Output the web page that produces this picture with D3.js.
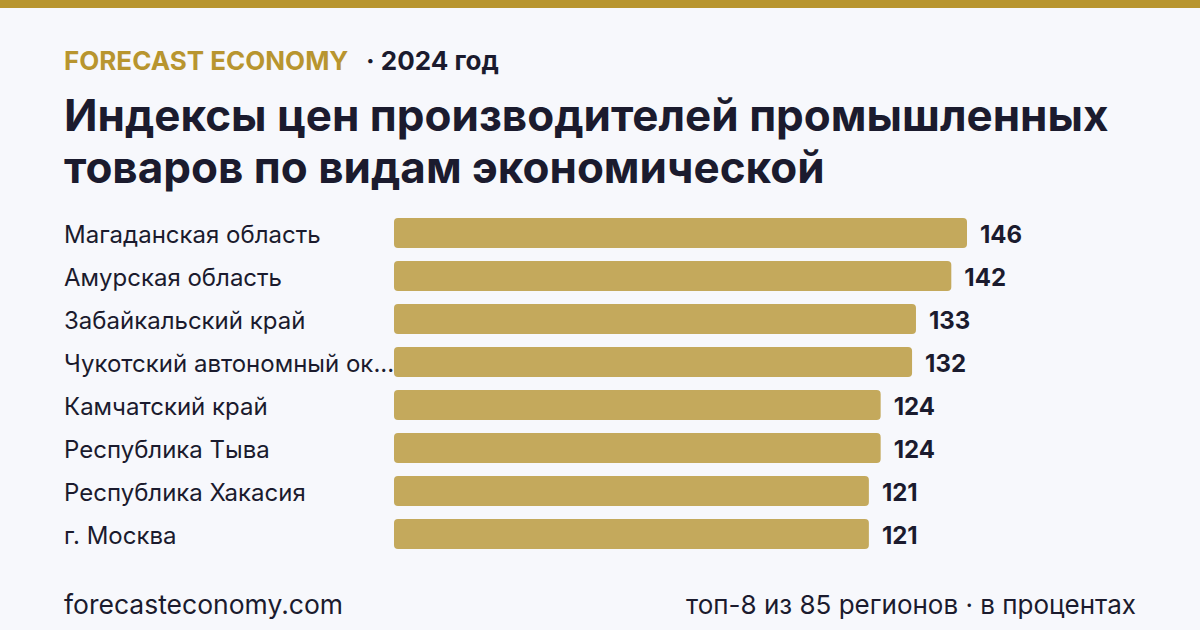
<!DOCTYPE html>
<html>
<head>
<meta charset="utf-8">
<script src="https://cdn.jsdelivr.net/npm/d3@7"></script>
<style>
  html, body { margin: 0; padding: 0; background: #f7f8fc; }
  svg { display: block; font-family: Inter, "Noto Sans", sans-serif; }
</style>
</head>
<body>
<div id="chart"></div>
<script>
const regions = [
  "Магаданская область",
  "Амурская область",
  "Забайкальский край",
  "Чукотский автономный округ",
  "Камчатский край",
  "Республика Тыва",
  "Республика Хакасия",
  "г. Москва"
];
const values = [146, 142, 133, 132, 124, 124, 121, 121];

const titleLines = [
  "Индексы цен производителей промышленных",
  "товаров по видам экономической"
];

let w = 1200,
    h = 630,
    margin = ({ top: 218, left: 394, right: 233, bottom: 81 });

const gold = "#b8952f",
      barColor = "#c4a95c",
      ink = "#1b1b2e";

const svg = d3.select("#chart")
  .append("svg")
  .attr("width", w)
  .attr("height", h)
  .attr("viewBox", [0, 0, w, h]);

svg.append("rect")
  .attr("width", w).attr("height", h)
  .attr("fill", "#f7f8fc");

// gold stripe at top
svg.append("rect")
  .attr("width", w).attr("height", 8)
  .attr("fill", gold);

// header
svg.append("text")
  .attr("x", 64).attr("y", 70)
  .attr("fill", gold)
  .attr("font-size", 26)
  .attr("font-weight", 700)
  .text("FORECAST ECONOMY");

svg.append("text")
  .attr("x", 366).attr("y", 70)
  .attr("fill", ink)
  .attr("font-size", 26)
  .attr("font-weight", 700)
  .text("· 2024 год");

svg.append("g")
  .selectAll("text")
  .data(titleLines)
  .join("text")
  .attr("x", 64)
  .attr("y", (d, i) => 131 + i * 52)
  .attr("fill", ink)
  .attr("font-size", 44)
  .attr("font-weight", 700)
  .text(d => d);

let x = d3.scaleLinear()
  .domain([0, d3.max(values)])
  .range([margin.left, w - margin.right]);

let y = d3.scaleBand()
  .domain(regions)
  .range([margin.top, margin.top + 43 * regions.length - 13])
  .paddingInner(13 / 43)
  .paddingOuter(0);

const rows = svg.append("g")
  .selectAll("g")
  .data(regions.map((r, i) => ({ region: r, value: values[i] })))
  .join("g");

rows.append("rect")
  .attr("x", x(0))
  .attr("y", d => y(d.region))
  .attr("width", d => x(d.value) - x(0))
  .attr("height", y.bandwidth())
  .attr("rx", 4)
  .attr("fill", barColor);

rows.append("text")
  .attr("x", d => x(d.value) + 13)
  .attr("y", d => y(d.region) + y.bandwidth() / 2)
  .attr("dy", "0.4em")
  .attr("fill", ink)
  .attr("font-size", 24)
  .attr("font-weight", 700)
  .text(d => d.value);

rows.append("text")
  .attr("class", "label")
  .attr("x", 64)
  .attr("y", d => y(d.region) + y.bandwidth() / 2)
  .attr("dy", "0.4em")
  .attr("fill", ink)
  .attr("font-size", 24)
  .text(d => d.region)
  .each(function() {
    // trim long names so they stop before the bar
    const el = d3.select(this);
    let t = el.text();
    const maxW = margin.left - 62;
    if (this.getComputedTextLength() > maxW) {
      while (t.length > 0) {
        t = t.slice(0, -1);
        el.text(t.trimEnd() + "...");
        if (this.getComputedTextLength() <= maxW) break;
      }
    }
  });

// footer
svg.append("text")
  .attr("x", 64).attr("y", 614)
  .attr("fill", ink)
  .attr("font-size", 26.5)
  .text("forecasteconomy.com");

svg.append("text")
  .attr("x", 1136).attr("y", 614)
  .attr("text-anchor", "end")
  .attr("fill", ink)
  .attr("font-size", 26)
  .text("топ-8 из 85 регионов · в процентах");
</script>
</body>
</html>
